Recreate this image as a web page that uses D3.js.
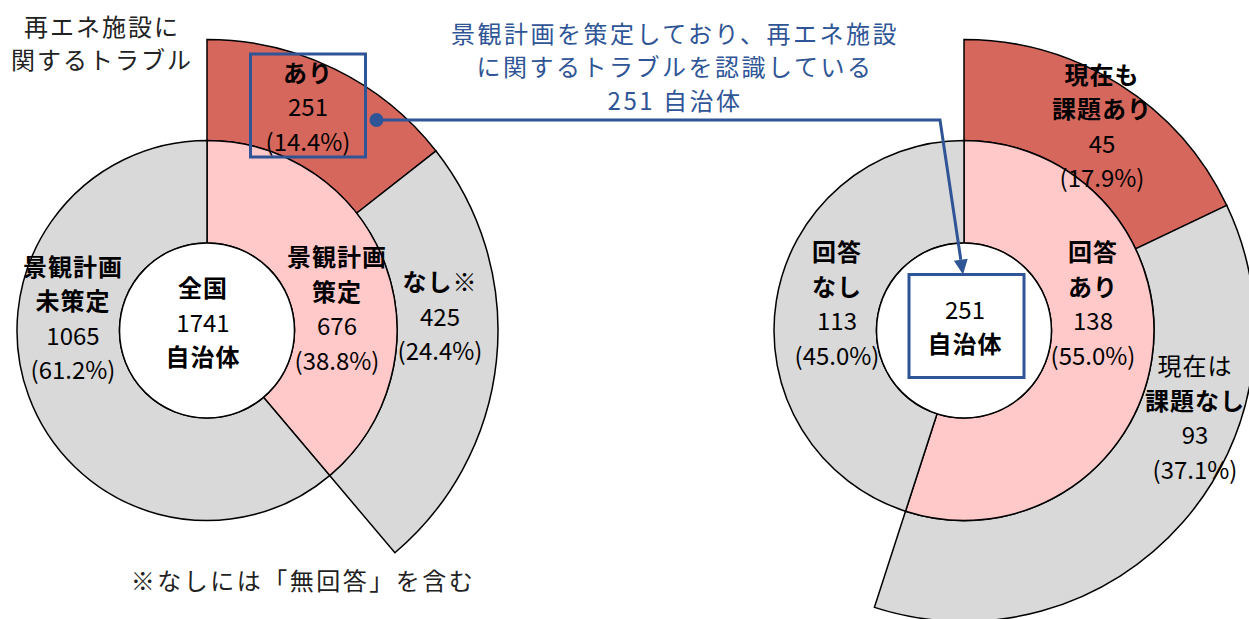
<!DOCTYPE html>
<html>
<head>
<meta charset="utf-8">
<script src="https://cdn.jsdelivr.net/npm/d3@7"></script>
<style>
    body { margin: 0; background: #fff; }
    svg { display: block; font-family: "Noto Sans CJK JP", "Noto Sans", sans-serif; }
</style>
</head>
<body>
<div id="chart"></div>
<script>
// left chart: all municipalities
const leftCats = ["景観計画\n策定", "景観計画\n未策定"];
const leftValues = [676, 1065];
const leftSubCats = ["あり", "なし※"];
const leftSubValues = [251, 425];
const leftCenter = ["全国", "1741", "自治体"];

// right chart: municipalities with trouble
const rightCats = ["回答\nあり", "回答\nなし"];
const rightValues = [138, 113];
const rightSubCats = ["現在も\n課題あり", "現在は\n課題なし"];
const rightSubValues = [45, 93];
const rightCenter = ["251", "自治体"];

const titleLines = ["景観計画を策定しており、再エネ施設", "に関するトラブルを認識している", "251 自治体"];
const sideLines = ["再エネ施設に", "関するトラブル"];
const noteText = "※なしには「無回答」を含む";

const width = 1249, height = 619;
const rInner = 87.5, rMid = 190, rOuter = 291;
const RED = "#D6675D", PINK = "#FFC9C9", GREY = "#D9D9D9", BLUE = "#2F5597";
const lineH = 34.5;

const svg = d3.select("#chart").append("svg")
    .attr("width", width)
    .attr("height", height);

function fmtPct(v, total) {
    return "(" + (v / total * 100).toFixed(1) + "%)";
}

// draws a multi-line label centred on (x, y)
function label(g, x, y, lines, opts) {
    opts = opts || {};
    const n = lines.length;
    lines.forEach(function (ln, i) {
        const isNum = /^[\d().%]+$/.test(ln);
        g.append("text")
            .attr("x", x)
            .attr("y", y + (i - (n - 1) / 2) * lineH)
            .attr("text-anchor", "middle")
            .attr("dominant-baseline", "central")
            .style("font-size", "24px")
            .style("font-weight", (isNum || (opts.light && opts.light.indexOf(ln) >= 0)) ? 400 : 700)
            .style("letter-spacing", isNum ? "0px" : "1px")
            .style("fill", "#000")
            .text(ln);
    });
}

function donut(cx, cy, cats, values, subCats, subValues, colors, subColors, pos, centerLines, light) {
    const total = d3.sum(values);
    const g = svg.append("g").attr("transform", "translate(" + cx + "," + cy + ")");

    const pie = d3.pie().sort(null);
    const arcMid = d3.arc().innerRadius(rInner).outerRadius(rMid);
    const subPie = d3.pie().sort(null)
        .startAngle(0)
        .endAngle(2 * Math.PI * d3.sum(subValues) / total);
    const arcOut = d3.arc().innerRadius(rMid).outerRadius(rOuter);

    g.selectAll(".out").data(subPie(subValues)).enter()
        .append("path").classed("out", true)
        .attr("d", arcOut)
        .style("fill", (d, i) => subColors[i])
        .style("stroke", "#000").style("stroke-width", 1.5);

    g.selectAll(".mid").data(pie(values)).enter()
        .append("path").classed("mid", true)
        .attr("d", arcMid)
        .style("fill", (d, i) => colors[i])
        .style("stroke", "#000").style("stroke-width", 1.5);

    g.append("circle").attr("r", rInner)
        .style("fill", "#fff").style("stroke", "#000").style("stroke-width", 1.5);

    cats.forEach(function (c, i) {
        label(g, pos.mid[i][0], pos.mid[i][1],
            c.split("\n").concat([String(values[i]), fmtPct(values[i], total)]), {light: light});
    });
    subCats.forEach(function (c, i) {
        label(g, pos.out[i][0], pos.out[i][1],
            c.split("\n").concat([String(subValues[i]), fmtPct(subValues[i], total)]), {light: light});
    });
    label(g, pos.center[0], pos.center[1], centerLines);
    return g;
}

// label offsets from each chart's centre
const leftPos = {mid: [[130, -23], [-134, -13.5]], out: [[101, -225], [233, -15.5]], center: [-4, -9.5]};
const rightPos = {mid: [[129, -28], [-127, -28]], out: [[138, -205.5], [231, 86]], center: [1, -5]};

const L = {x: 207, y: 330.5}, R = {x: 964, y: 330.5};

donut(L.x, L.y, leftCats, leftValues, leftSubCats, leftSubValues,
    [PINK, GREY], [RED, GREY], leftPos, leftCenter, []);
donut(R.x, R.y, rightCats, rightValues, rightSubCats, rightSubValues,
    [PINK, GREY], [RED, GREY], rightPos, rightCenter, ["現在は"]);

// side caption and note
sideLines.forEach(function (t, i) {
    svg.append("text")
        .attr("x", 102).attr("y", 25 + i * 33.5)
        .attr("text-anchor", "middle").attr("dominant-baseline", "central")
        .style("font-size", "24px").style("letter-spacing", "2px")
        .style("fill", "#222")
        .text(t);
});
svg.append("text")
    .attr("x", 303).attr("y", 579)
    .attr("text-anchor", "middle").attr("dominant-baseline", "central")
    .style("font-size", "24px").style("letter-spacing", "2.5px")
    .style("fill", "#222")
    .text(noteText);

// blue annotation
titleLines.forEach(function (t, i) {
    svg.append("text")
        .attr("x", 675).attr("y", 32 + i * 33.5)
        .attr("text-anchor", "middle").attr("dominant-baseline", "central")
        .style("font-size", "24px").style("letter-spacing", "2.5px")
        .style("fill", BLUE)
        .text(t);
});

const boxW = 115, boxH = 103;
const lb = {x: L.x + leftPos.out[0][0], y: L.y + leftPos.out[0][1]};
const rb = {x: R.x + rightPos.center[0] + 1.5, y: R.y + rightPos.center[1] + 0.5};

[lb, rb].forEach(function (b) {
    svg.append("rect")
        .attr("x", b.x - boxW / 2).attr("y", b.y - boxH / 2)
        .attr("width", boxW).attr("height", boxH)
        .style("fill", "none").style("stroke", BLUE).style("stroke-width", 3);
});

const dot = {x: lb.x + boxW / 2 + 11, y: 120};
const corner = {x: 940, y: 120};
const tip = {x: R.x - 1, y: rb.y - boxH / 2};
const ang = Math.atan2(tip.y - corner.y, tip.x - corner.x);
const headL = 15, headW = 7;
const base = {x: tip.x - headL * Math.cos(ang), y: tip.y - headL * Math.sin(ang)};

svg.append("path")
    .attr("d", d3.line()([[dot.x, dot.y], [corner.x, corner.y], [base.x, base.y]]))
    .style("fill", "none").style("stroke", BLUE).style("stroke-width", 3);
svg.append("circle")
    .attr("cx", dot.x).attr("cy", dot.y).attr("r", 7)
    .style("fill", BLUE);
svg.append("path")
    .attr("d", d3.line()([
        [tip.x, tip.y],
        [base.x - headW * Math.sin(ang), base.y + headW * Math.cos(ang)],
        [base.x + headW * Math.sin(ang), base.y - headW * Math.cos(ang)]
    ]) + "Z")
    .style("fill", BLUE);
</script>
</body>
</html>
